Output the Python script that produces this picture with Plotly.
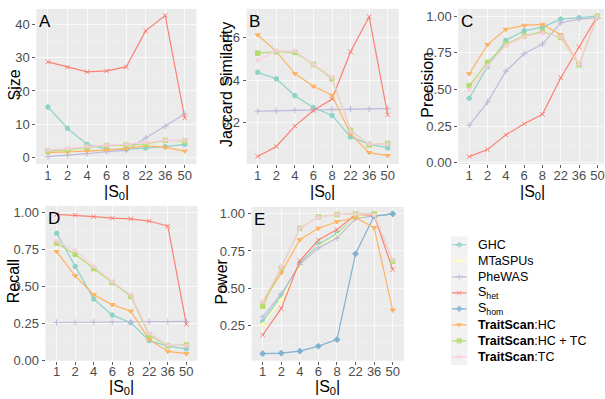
import plotly.graph_objects as go

W, H = 605, 399
FONT = "Liberation Sans, Arial, sans-serif"

cats = ["1", "2", "4", "6", "8", "22", "36", "50"]

methods = ["GHC", "MTaSPUs", "PheWAS", "Shet", "Shom",
           "TraitScan:HC", "TraitScan:HC + TC", "TraitScan:TC"]
legend_labels = ["GHC", "MTaSPUs", "PheWAS", "S<sub>het</sub>", "S<sub>hom</sub>",
                 "<b>TraitScan</b>:HC", "<b>TraitScan</b>:HC + TC", "<b>TraitScan</b>:TC"]
colors = ["#8DD3C7", "#FFFFB3", "#BEBADA", "#FB8072", "#80B1D3",
          "#FDB462", "#B3DE69", "#FCCDE5"]
symbols = ["circle", "triangle-up", "cross-thin", "x-thin", "diamond",
           "triangle-down", "square", "asterisk"]

size_vals = {
    "GHC":               [15.2, 8.8, 4.0, 2.6, 2.5, 2.9, 3.3, 4.0],
    "PheWAS":            [0.3, 0.7, 1.2, 1.8, 2.2, 5.9, 9.4, 13.1],
    "Shet":              [28.7, 27.1, 25.7, 26.0, 27.2, 38.0, 42.6, 11.9],
    "TraitScan:HC":      [1.5, 1.7, 2.0, 2.3, 2.7, 3.6, 3.1, 2.0],
    "TraitScan:HC + TC": [2.0, 2.4, 3.1, 3.6, 3.8, 4.2, 5.2, 5.0],
    "TraitScan:TC":      [2.3, 2.8, 3.4, 3.8, 4.0, 4.5, 5.3, 5.2],
}
jaccard_vals = {
    "GHC":               [0.438, 0.408, 0.328, 0.272, 0.235, 0.134, 0.100, 0.082],
    "PheWAS":            [0.255, 0.257, 0.260, 0.263, 0.264, 0.265, 0.266, 0.267],
    "Shet":              [0.042, 0.089, 0.185, 0.258, 0.312, 0.535, 0.700, 0.238],
    "TraitScan:HC":      [0.614, 0.537, 0.432, 0.372, 0.330, 0.148, 0.060, 0.046],
    "TraitScan:HC + TC": [0.528, 0.535, 0.532, 0.475, 0.408, 0.165, 0.096, 0.103],
    "TraitScan:TC":      [0.495, 0.540, 0.538, 0.475, 0.415, 0.160, 0.100, 0.100],
}
precision_vals = {
    "GHC":               [0.440, 0.656, 0.835, 0.900, 0.925, 0.980, 0.990, 1.000],
    "PheWAS":            [0.255, 0.414, 0.625, 0.744, 0.810, 0.955, 0.980, 0.990],
    "Shet":              [0.042, 0.090, 0.190, 0.266, 0.330, 0.580, 0.790, 1.000],
    "TraitScan:HC":      [0.607, 0.806, 0.910, 0.937, 0.944, 0.873, 0.672, 1.000],
    "TraitScan:HC + TC": [0.525, 0.685, 0.810, 0.865, 0.895, 0.855, 0.668, 1.000],
    "TraitScan:TC":      [0.495, 0.660, 0.800, 0.860, 0.885, 0.860, 0.670, 1.000],
}
recall_vals = {
    "GHC":               [0.862, 0.638, 0.417, 0.308, 0.257, 0.135, 0.098, 0.080],
    "PheWAS":            [0.258, 0.258, 0.260, 0.262, 0.263, 0.263, 0.264, 0.265],
    "Shet":              [0.990, 0.985, 0.975, 0.965, 0.960, 0.945, 0.910, 0.245],
    "TraitScan:HC":      [0.738, 0.574, 0.446, 0.379, 0.335, 0.142, 0.062, 0.047],
    "TraitScan:HC + TC": [0.796, 0.720, 0.623, 0.528, 0.435, 0.173, 0.102, 0.106],
    "TraitScan:TC":      [0.810, 0.745, 0.638, 0.535, 0.446, 0.185, 0.106, 0.100],
}
power_vals = {
    "GHC":               [0.274, 0.449, 0.669, 0.794, 0.868, 0.978, 0.985, 1.000],
    "MTaSPUs":           [0.256, 0.422, 0.647, 0.780, 0.853, 0.978, 0.990, 1.000],
    "PheWAS":            [0.305, 0.462, 0.660, 0.771, 0.837, 0.969, 0.987, 1.000],
    "Shet":              [0.184, 0.363, 0.684, 0.824, 0.894, 0.996, 0.990, 0.625],
    "Shom":              [0.058, 0.062, 0.075, 0.109, 0.153, 0.731, 0.985, 1.000],
    "TraitScan:HC":      [0.404, 0.603, 0.826, 0.903, 0.947, 0.974, 0.907, 0.351],
    "TraitScan:HC + TC": [0.378, 0.636, 0.903, 0.980, 0.996, 1.000, 1.000, 0.682],
    "TraitScan:TC":      [0.410, 0.643, 0.903, 0.978, 0.996, 1.000, 0.996, 0.690],
}

# panel layout: (data, letter, ytitle, x px domain, y px domain (top,bottom), x range, y range,
#                dtick, minor dtick, tickformat, ytitle x px, xtitle y px)
panels = [
    (size_vals, "A", "Size", (36.3, 196.8), (9, 167), (-0.6, 7.6), (-1.9, 44.6), 10, 5, "d", 15, 196),
    (jaccard_vals, "B", "Jaccard Similarity", (247, 399.5), (9, 167), (-0.6, 7.6), (0.006, 0.737), 0.2, 0.1, ".1f", 227, 196),
    (precision_vals, "C", "Precision", (459, 605), (9, 167), (-0.6, 7.36), (-0.009, 1.05), 0.25, 0.125, ".2f", 428, 196),
    (recall_vals, "D", "Recall", (45.6, 197.8), (209.5, 367.2), (-0.6, 7.6), (-0.001, 1.048), 0.25, 0.125, ".2f", 13, 394),
    (power_vals, "E", "Power", (252, 404.5), (210.6, 367.1), (-0.6, 7.6), (0.011, 1.047), 0.25, 0.125, ".2f", 222, 394),
]

fig = go.Figure()
annotations = []
shapes = []
layout_axes = {}


def px_x(v):
    return v / W


def px_y(v):
    return 1 - v / H


for i, (data, letter, ytitle, xd, yd, xr, yr, dt, mdt, tf, ytx, xty) in enumerate(panels):
    n = i + 1
    xa = "x" if n == 1 else f"x{n}"
    ya = "y" if n == 1 else f"y{n}"
    for m, c, s in zip(methods, colors, symbols):
        if m not in data:
            continue
        fig.add_trace(go.Scatter(
            x=cats, y=data[m], xaxis=xa, yaxis=ya, mode="lines+markers",
            line=dict(color=c, width=1.2),
            marker=dict(symbol=s, size=4.5, color=c, line=dict(color=c, width=1)),
            showlegend=False, hoverinfo="skip"))
    layout_axes["xaxis" if n == 1 else f"xaxis{n}"] = dict(
        domain=[px_x(xd[0]), px_x(xd[1])], anchor=ya, type="category",
        categoryorder="array", categoryarray=cats, range=list(xr),
        showgrid=True, gridcolor="white", gridwidth=0.7, zeroline=False,
        ticks="outside", ticklen=3, tickcolor="#333333", tickwidth=0.8,
        ticklabelstandoff=-4,
        tickfont=dict(family=FONT, size=13, color="#4D4D4D"), showline=False)
    layout_axes["yaxis" if n == 1 else f"yaxis{n}"] = dict(
        domain=[px_y(yd[1]), px_y(yd[0])], anchor=xa, range=list(yr),
        dtick=dt, tick0=0, tickformat=tf,
        showgrid=True, gridcolor="white", gridwidth=0.7, zeroline=False,
        minor=dict(dtick=mdt, tick0=0, showgrid=True, gridcolor="#F5F5F5", gridwidth=0.4),
        ticks="outside", ticklen=3, tickcolor="#333333", tickwidth=0.8,
        tickfont=dict(family=FONT, size=13, color="#4D4D4D"), showline=False)
    # panel letter
    annotations.append(dict(text=letter, xref="paper", yref="paper",
                            x=px_x(xd[0] + 0.5), y=px_y(yd[0] + 1), xanchor="left", yanchor="top",
                            showarrow=False, font=dict(family=FONT, size=17, color="black")))
    # y title
    annotations.append(dict(text=ytitle, xref="paper", yref="paper",
                            x=px_x(ytx), y=px_y((yd[0] + yd[1]) / 2 - 2), xanchor="center", yanchor="middle",
                            textangle=-90, showarrow=False,
                            font=dict(family=FONT, size=16, color="black")))
    # x title
    annotations.append(dict(text="|S<sub>0</sub>|", xref="paper", yref="paper",
                            x=px_x((xd[0] + xd[1]) / 2 if n != 3 else 533), y=px_y(xty),
                            xanchor="center", yanchor="middle", showarrow=False,
                            font=dict(family=FONT, size=16, color="black")))

# legend (manual, ggplot-like key column)
nleg = len(methods)
for k, (m, c, s, lab) in enumerate(zip(methods, colors, symbols, legend_labels)):
    fig.add_trace(go.Scatter(
        x=[0.05, 0.5, 0.95], y=[k, k, k], xaxis="x6", yaxis="y6", mode="lines+markers",
        line=dict(color=c, width=1.2),
        marker=dict(symbol=s, size=[0, 4.5, 0], color=c, line=dict(color=c, width=1)),
        showlegend=False, hoverinfo="skip"))
    annotations.append(dict(text=lab, xref="paper", yref="y6", x=px_x(476.5), y=k,
                            xanchor="left", yanchor="middle", showarrow=False,
                            font=dict(family=FONT, size=12.5, color="black")))

leg_top, leg_step = 241, 16.29
layout_axes["xaxis6"] = dict(domain=[px_x(452), px_x(468)], anchor="y6", range=[0, 1],
                             visible=False, showgrid=False, zeroline=False)
layout_axes["yaxis6"] = dict(domain=[px_y(leg_top + nleg * leg_step), px_y(leg_top)], anchor="x6",
                             range=[nleg - 0.5, -0.5], visible=False, showgrid=False, zeroline=False)
shapes.append(dict(type="rect", xref="x6 domain", yref="y6 domain", x0=0, x1=1, y0=0, y1=1,
                   fillcolor="#F2F2F2", line=dict(width=0), layer="below"))

fig.update_layout(
    width=W, height=H, margin=dict(l=0, r=0, t=0, b=0),
    paper_bgcolor="white", plot_bgcolor="#EBEBEB",
    annotations=annotations, shapes=shapes, showlegend=False,
    font=dict(family=FONT), hovermode=False,
    **layout_axes)

fig.write_html("out.html", config={"displayModeBar": False, "staticPlot": True},
               post_script="document.body.style.margin='0px';document.body.style.overflow='hidden';")
